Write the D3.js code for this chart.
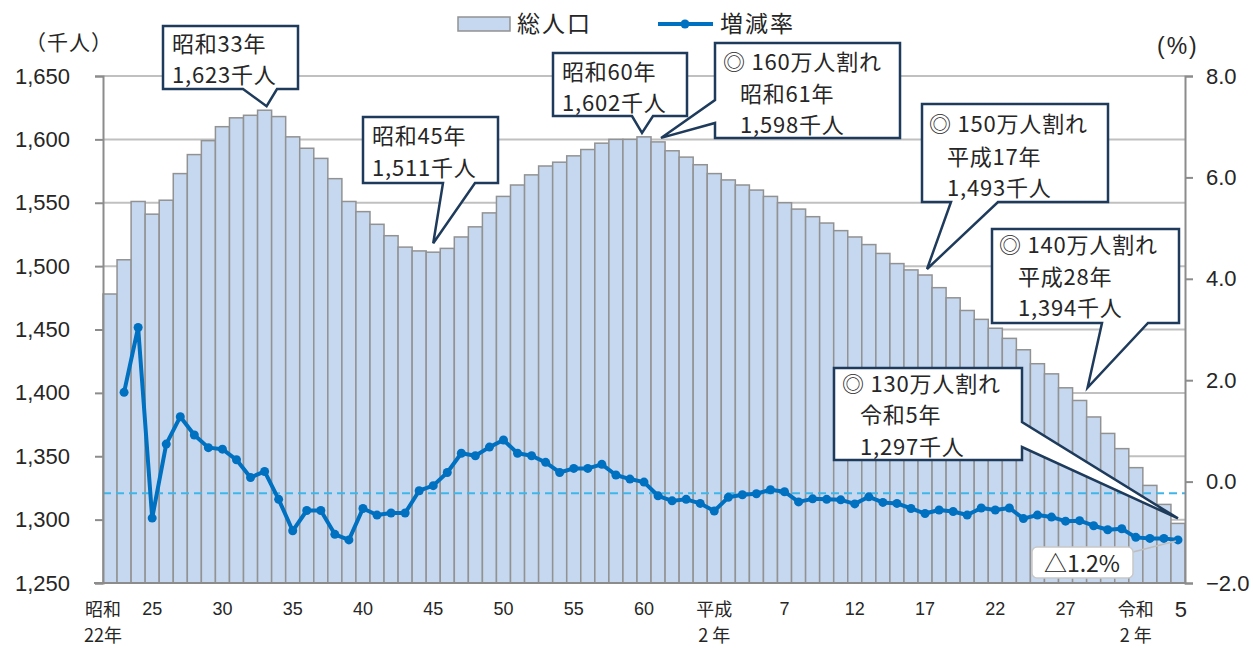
<!DOCTYPE html>
<html>
<head>
<meta charset="utf-8">
<script src="https://cdn.jsdelivr.net/npm/d3@7/dist/d3.min.js"></script>
<style>
  html, body { margin: 0; padding: 0; background: #ffffff; }
  svg { display: block; }
</style>
</head>
<body>
<svg id="chart" width="1253" height="648"></svg>
<script>
// ---------------- DATA ----------------
const years = [1947,1948,1949,1950,1951,1952,1953,1954,1955,1956,1957,1958,1959,1960,1961,1962,1963,1964,1965,1966,
  1967,1968,1969,1970,1971,1972,1973,1974,1975,1976,1977,1978,1979,1980,1981,1982,1983,1984,1985,1986,
  1987,1988,1989,1990,1991,1992,1993,1994,1995,1996,1997,1998,1999,2000,2001,2002,2003,2004,2005,2006,
  2007,2008,2009,2010,2011,2012,2013,2014,2015,2016,2017,2018,2019,2020,2021,2022,2023];

// 総人口 (千人)
const population = [1478,1505,1551,1541,1552,1573,1588,1599,1610,1617,1619,1623,1618,1602,1593,1585,1569,1551,1543,1533,
  1524,1515,1512,1511,1514,1523,1531,1542,1555,1564,1572,1579,1582,1587,1592,1597,1600,1600,1602,1598,
  1591,1586,1580,1573,1568,1564,1560,1555,1550,1545,1539,1534,1528,1523,1517,1510,1502,1497,1493,1483,
  1475,1465,1458,1451,1443,1434,1423,1415,1404,1394,1381,1368,1356,1341,1327,1312,1297];

// 増減率 (%)
const growthRate = [null,1.76,3.04,-0.72,0.74,1.28,0.92,0.67,0.64,0.43,0.08,0.20,-0.35,-0.97,-0.57,-0.57,-1.04,-1.15,-0.53,-0.66,
  -0.62,-0.62,-0.18,-0.08,0.18,0.56,0.51,0.68,0.82,0.56,0.51,0.38,0.18,0.26,0.26,0.34,0.13,0.05,-0.01,-0.28,
  -0.38,-0.35,-0.43,-0.58,-0.31,-0.26,-0.24,-0.16,-0.20,-0.40,-0.34,-0.35,-0.36,-0.44,-0.30,-0.41,-0.43,-0.53,-0.63,-0.56,
  -0.59,-0.66,-0.52,-0.56,-0.52,-0.73,-0.66,-0.70,-0.78,-0.77,-0.87,-0.95,-0.93,-1.10,-1.12,-1.12,-1.15];

const leftTicks = [1250,1300,1350,1400,1450,1500,1550,1600,1650];
const rightTicks = [-2,0,2,4,6,8];
const dashedRefValue = -0.23;

const xTickYears  = [1947, 1950, 1955, 1960, 1965, 1970, 1975, 1980, 1985, 1990, 1995, 2000, 2005, 2010, 2015, 2020, 2023];
const xTickLabels = [["昭和","22年"],["25"],["30"],["35"],["40"],["45"],["50"],["55"],["60"],["平成","2 年"],["7"],["12"],["17"],["22"],["27"],["令和","2 年"],["5"]];

const annoYears = [1958, 1970, 1985, 1986, 2005, 2016, 2023];
const annoTexts = [
  ["昭和33年", "1,623千人"],
  ["昭和45年", "1,511千人"],
  ["昭和60年", "1,602千人"],
  ["◎ 160万人割れ", "昭和61年", "1,598千人"],
  ["◎ 150万人割れ", "平成17年", "1,493千人"],
  ["◎ 140万人割れ", "平成28年", "1,394千人"],
  ["◎ 130万人割れ", "令和5年", "1,297千人"]
];
const lastRateLabel = "△1.2%";
const legendLabels = ["総人口", "増減率"];

// ---------------- LAYOUT ----------------
const svg = d3.select("#chart");
const L = 103, R = 1185, T = 76, B = 583;

const x = d3.scaleBand().domain(years).range([L, R]).padding(0);
const yL = d3.scaleLinear().domain([1250, 1650]).range([B, T]);
const yR = d3.scaleLinear().domain([-2, 8]).range([B, T]);
const bw = x.bandwidth();
const cx = yr => x(yr) + bw / 2;

const jp = "'Noto Sans CJK JP', 'Noto Sans', sans-serif";
const num = "'Liberation Sans', Arial, sans-serif";
const txtColor = "#262626";

svg.append("rect").attr("width", 1253).attr("height", 648).attr("fill", "#fff");

// gridlines
svg.append("g").selectAll("line")
  .data(leftTicks.filter(d => d > 1250))
  .join("line")
  .attr("x1", L).attr("x2", R)
  .attr("y1", d => yL(d)).attr("y2", d => yL(d))
  .attr("stroke", "#c0c0c0").attr("stroke-width", 2);

// bars
svg.append("g").selectAll("rect")
  .data(years)
  .join("rect")
  .attr("x", d => x(d))
  .attr("y", (d, i) => yL(population[i]))
  .attr("width", bw)
  .attr("height", (d, i) => B - yL(population[i]))
  .attr("fill", "#c6d8ef")
  .attr("stroke", "#929292")
  .attr("stroke-width", 1.5);

// dashed reference line
svg.append("line")
  .attr("x1", L).attr("x2", R)
  .attr("y1", yR(dashedRefValue)).attr("y2", yR(dashedRefValue))
  .attr("stroke", "#3fb6ea").attr("stroke-width", 2)
  .attr("stroke-dasharray", "8,5");

// growth line
const rateData = years.map((yr, i) => ({ yr, v: growthRate[i] })).filter(d => d.v !== null);
const line = d3.line().x(d => cx(d.yr)).y(d => yR(d.v));
svg.append("path")
  .datum(rateData)
  .attr("d", line)
  .attr("fill", "none")
  .attr("stroke", "#0070c0")
  .attr("stroke-width", 4)
  .attr("stroke-linejoin", "round");
svg.append("g").selectAll("circle")
  .data(rateData)
  .join("circle")
  .attr("cx", d => cx(d.yr))
  .attr("cy", d => yR(d.v))
  .attr("r", 4.5)
  .attr("fill", "#0070c0");

// axes
const axisColor = "#8c8c8c";
const leftAxis = svg.append("g").attr("transform", `translate(${L},0)`)
  .call(d3.axisLeft(yL).tickValues(leftTicks).tickFormat(d3.format(",")).tickSize(8).tickPadding(25));
const rightAxis = svg.append("g").attr("transform", `translate(${R},0)`)
  .call(d3.axisRight(yR).tickValues(rightTicks).tickFormat(d3.format(".1f")).tickSize(8).tickPadding(13));
[leftAxis, rightAxis].forEach(g => {
  g.select(".domain").attr("stroke", axisColor).attr("stroke-width", 2);
  g.selectAll(".tick line").attr("stroke", axisColor).attr("stroke-width", 2);
  g.selectAll(".tick text").attr("font-family", num).attr("font-size", 22).attr("fill", txtColor);
});
// bottom axis line
svg.append("line").attr("x1", L - 9).attr("x2", R).attr("y1", B).attr("y2", B)
  .attr("stroke", axisColor).attr("stroke-width", 2);

// x labels
const xl = svg.append("g");
xTickYears.forEach((yr, i) => {
  const lab = xTickLabels[i];
  const isLast = i === xTickYears.length - 1;
  let xpos = cx(yr);
  if (i === 0) xpos = cx(yr) - 7;
  if (lab.length === 2) {
    xl.append("text").attr("x", xpos).attr("y", 616).attr("text-anchor", "middle")
      .attr("font-family", jp).attr("font-size", 18).attr("fill", txtColor).text(lab[0]);
    xl.append("text").attr("x", xpos).attr("y", 642).attr("text-anchor", "middle")
      .attr("font-family", jp).attr("font-size", 18).attr("fill", txtColor).text(lab[1]);
  } else {
    xl.append("text").attr("x", xpos + (isLast ? 3 : 0)).attr("y", isLast ? 617 : 615).attr("text-anchor", "middle")
      .attr("font-family", num).attr("font-size", isLast ? 22 : 18).attr("fill", txtColor).text(lab[0]);
  }
});

// axis unit labels
svg.append("text").attr("x", 25).attr("y", 50).attr("font-family", jp).attr("font-size", 21)
  .attr("letter-spacing", 1).attr("fill", txtColor).text("（千人）");
svg.append("text").attr("x", 1157).attr("y", 54).attr("font-family", num).attr("font-size", 23)
  .attr("letter-spacing", 2).attr("fill", txtColor).text("(%)");

// legend
svg.append("rect").attr("x", 458).attr("y", 17).attr("width", 52).attr("height", 14)
  .attr("fill", "#c6d8ef").attr("stroke", "#929292").attr("stroke-width", 1.5);
svg.append("text").attr("x", 517).attr("y", 32).attr("font-family", jp).attr("font-size", 23)
  .attr("letter-spacing", 2).attr("fill", txtColor).text(legendLabels[0]);
svg.append("line").attr("x1", 658).attr("x2", 713).attr("y1", 24).attr("y2", 24)
  .attr("stroke", "#0070c0").attr("stroke-width", 4);
svg.append("circle").attr("cx", 685).attr("cy", 24).attr("r", 4.5).attr("fill", "#0070c0");
svg.append("text").attr("x", 720).attr("y", 32).attr("font-family", jp).attr("font-size", 23)
  .attr("letter-spacing", 2).attr("fill", txtColor).text(legendLabels[1]);

// callouts
const boxes = [
  { x0: 163, y0: 26,  x1: 298,  y1: 89,  side: "bottom", a: 243, c: 277, dx: 2,  dy: 4,  tx: [172, 172], by: [52, 83] },
  { x0: 363, y0: 117, x1: 498,  y1: 183, side: "bottom", a: 443, c: 475, dx: 0,  dy: 9,  tx: [372, 372], by: [144, 176] },
  { x0: 553, y0: 53,  x1: 687,  y1: 116, side: "bottom", a: 632, c: 653, dx: -2, dy: 4,  tx: [562, 562], by: [80, 111] },
  { x0: 715, y0: 43,  x1: 900,  y1: 138, side: "left",   a: 100, c: 123, dx: 3,  dy: 4,  tx: [723, 740, 740], by: [70, 102, 133] },
  { x0: 922, y0: 104, x1: 1108, y1: 202, side: "bottom", a: 951, c: 998, dx: 2,  dy: 6,  tx: [929, 947, 947], by: [132, 165, 196] },
  { x0: 992, y0: 229, x1: 1179, y1: 323, side: "bottom", a: 1102, c: 1148, dx: 8, dy: 13, tx: [999, 1018, 1018], by: [253, 285, 316] },
  { x0: 834, y0: 368, x1: 1022, y1: 460, side: "right",  a: 422, c: 447, dx: 0,  dy: 5,  tx: [842, 860, 860], by: [392, 423, 455] }
];

function calloutPath(b, tx, ty) {
  const p = d3.path();
  p.moveTo(b.x0, b.y0);
  p.lineTo(b.x1, b.y0);
  if (b.side === "right") { p.lineTo(b.x1, b.a); p.lineTo(tx, ty); p.lineTo(b.x1, b.c); }
  p.lineTo(b.x1, b.y1);
  if (b.side === "bottom") { p.lineTo(b.c, b.y1); p.lineTo(tx, ty); p.lineTo(b.a, b.y1); }
  p.lineTo(b.x0, b.y1);
  if (b.side === "left") { p.lineTo(b.x0, b.c); p.lineTo(tx, ty); p.lineTo(b.x0, b.a); }
  p.closePath();
  return p.toString();
}

const cg = svg.append("g");
annoYears.forEach((yr, i) => {
  const b = boxes[i];
  const idx = years.indexOf(yr);
  const tipX = cx(yr) + b.dx;
  const tipY = yL(population[idx]) - b.dy;
  cg.append("path").attr("d", calloutPath(b, tipX, tipY))
    .attr("fill", "#fff").attr("stroke", "#1f3b5c").attr("stroke-width", 2.5)
    .attr("stroke-linejoin", "miter");
  annoTexts[i].forEach((t, j) => {
    cg.append("text").attr("x", b.tx[j]).attr("y", b.by[j])
      .attr("font-family", jp).attr("font-size", 22).attr("letter-spacing", 0.8)
      .attr("fill", txtColor).text(t);
  });
});

// last-rate label
const lastIdx = years.length - 1;
const lx = cx(years[lastIdx]), ly = yR(growthRate[lastIdx]);
svg.append("line").attr("x1", 1133).attr("y1", 552).attr("x2", lx - 2).attr("y2", ly + 1)
  .attr("stroke", "#bdbdbd").attr("stroke-width", 1.5);
svg.append("rect").attr("x", 1032).attr("y", 547).attr("width", 101).attr("height", 31).attr("rx", 5)
  .attr("fill", "#fff").attr("stroke", "#c8c8c8").attr("stroke-width", 1.5);
svg.append("text").attr("x", 1082).attr("y", 572).attr("text-anchor", "middle")
  .attr("font-family", jp).attr("font-size", 23).attr("fill", txtColor).text(lastRateLabel);
</script>
</body>
</html>
